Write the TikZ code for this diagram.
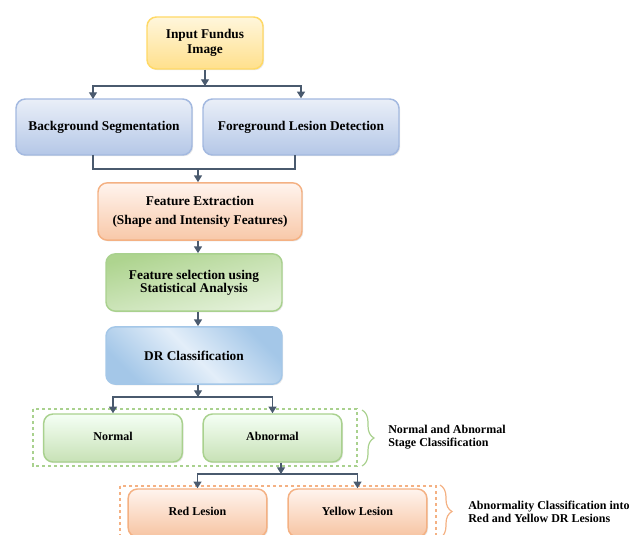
\documentclass[tikz,border=0pt]{standalone}
\usepackage{fontspec}
\setmainfont{Liberation Serif}
\usetikzlibrary{arrows.meta,shadows,decorations.pathreplacing}

\definecolor{lineC}{HTML}{4A5A6E}
\definecolor{yelT}{HTML}{FFF6DC}
\definecolor{yelD}{HTML}{FFE08C}
\definecolor{yelB}{HTML}{FFD966}
\definecolor{bluT}{HTML}{EAEFF8}
\definecolor{bluD}{HTML}{B4C7E7}
\definecolor{bluB}{HTML}{A3B9E0}
\definecolor{oraT}{HTML}{FFF4EE}
\definecolor{oraD}{HTML}{F8C8A8}
\definecolor{oraB}{HTML}{F4B183}
\definecolor{greD}{HTML}{AED48F}
\definecolor{greL}{HTML}{E4F1DA}
\definecolor{greB}{HTML}{A9D18E}
\definecolor{drD}{HTML}{A4C7E8}
\definecolor{drL}{HTML}{E3EEF9}

\tikzset{
  box/.style={draw, rounded corners=7pt, line width=1.1pt, inner sep=2pt, align=center,
    font=\bfseries\fontsize{10}{12}\selectfont,
    drop shadow={opacity=.18, shadow xshift=.9pt, shadow yshift=-.9pt}},
  ybox/.style={box, draw=yelB, top color=yelT, bottom color=yelD, minimum width=87pt, minimum height=39pt},
  bbox/.style={box, draw=bluB, top color=bluT, bottom color=bluD, minimum height=42pt},
  obox/.style={box, draw=oraB, top color=oraT, bottom color=oraD, minimum width=153pt, minimum height=43pt},
  gbox/.style={box, draw=greB, top color=greD, bottom color=greL, shading angle=15, minimum width=132pt, minimum height=43pt},
  dbox/.style={box, draw=drD, left color=drD, right color=drD, middle color=drL, shading angle=135, minimum width=132pt, minimum height=43pt},
  sbox/.style={box, font=\bfseries\fontsize{9}{11}\selectfont, minimum width=104pt, minimum height=36pt},
  nbox/.style={sbox, draw=greB, top color=green!4!white, bottom color=greB!65!white},
  rbox/.style={sbox, draw=oraB, top color=oraT, bottom color=oraB!75!white},
  note/.style={inner sep=0pt, align=left, font=\bfseries\fontsize{9}{9.5}\selectfont},
  arr/.style={draw=lineC, line width=.9pt, -{Triangle[width=6pt,length=5pt]}},
  conn/.style={draw=lineC, line width=.9pt},
  grp/.style={dashed, dash pattern=on 2.5pt off 2pt, line width=.8pt},
  brc/.style={line width=.9pt, decorate, decoration={brace, amplitude=9pt}}
}

\begin{document}
\begin{tikzpicture}[x=0.75pt,y=-0.75pt]
	\useasboundingbox (0,0) rectangle (640,535);
	\clip (0,0) rectangle (640,535);
	
	\node[ybox] (inp) at (205,43) {Input Fundus\\[-1pt]Image};
	\node[bbox, minimum width=132pt] (bg) at (104,127) {Background Segmentation};
	\node[bbox, minimum width=147pt] (fg) at (301,127) {Foreground Lesion Detection};
	\node[obox] (fe) at (200,211.5) {Feature Extraction\\[2pt](Shape and Intensity Features)};
	\node[gbox] (fs) at (194,282.5) {Feature selection using\\[-2pt]Statistical Analysis};
	\node[dbox] (dr) at (194,355.5) {DR Classification};
	
	\draw[grp, greB] (33,409) rectangle (357,466);
	\node[nbox] (nor) at (113,438) {\raisebox{2pt}{Normal}};
	\node[nbox] (abn) at (272.5,438) {\raisebox{2pt}{Abnormal}};
	
	\draw[grp, oraB] (120,486) rectangle (436,560);
	\node[rbox] (red) at (197.5,513) {\raisebox{2pt}{Red Lesion}};
	\node[rbox] (yel) at (357.5,513) {\raisebox{2pt}{Yellow Lesion}};
	
	\draw[brc, greB] (362,410) -- (362,466);
	\node[note, anchor=west] (lab1) at (388,437) {Normal and Abnormal\\Stage Classification};
	\draw[brc, oraB] (440,485) -- (440,538);
	\node[note, anchor=west] (lab2) at (468,512) {Abnormality Classification into\\Red and Yellow DR Lesions};
	
	\coordinate (j1) at (205,86);
	\coordinate (t1) at (93,99);
	\coordinate (b1) at (93,155);
	\coordinate (b2) at (295,155);
	\coordinate (j2) at (198,169);
	\coordinate (j3) at (198,397);
	\coordinate (j4) at (281,474);
	
	\draw[arr] (inp.south) -- (j1);
	\draw[arr] (j1) -| (t1);
	\draw[arr] (j1) -| (fg);
	\draw[conn] (b1) |- (j2) -| (b2);
	\draw[arr] (j2) -- (j2 |- fe.north);
	\draw[arr] (fe.south -| j2) -- (fs.north -| j2);
	\draw[arr] (fs.south -| j2) -- (dr.north -| j2);
	\draw[arr] (dr.south -| j3) -- (j3);
	\foreach \to in {nor,abn}
	\draw[arr] (j3) -| (\to);
	\draw[arr] (abn.south -| j4) -- (j4);
	\foreach \to in {red,yel}
	\draw[arr] (j4) -| (\to);
\end{tikzpicture}
\end{document}
